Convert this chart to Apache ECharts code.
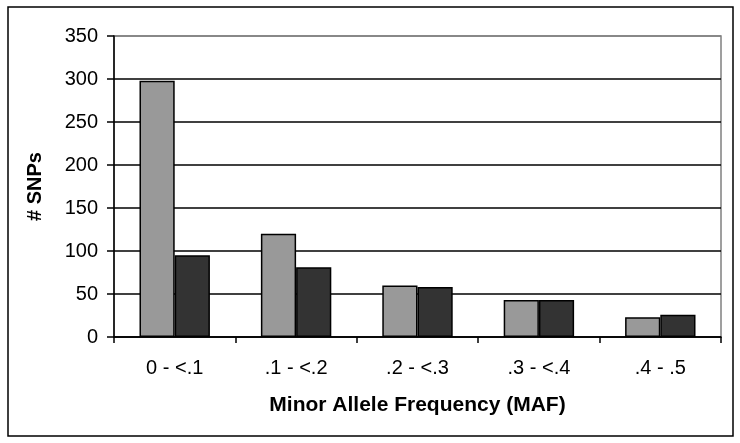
<!DOCTYPE html>
<html>
<head>
<meta charset="utf-8">
<script src="https://cdn.jsdelivr.net/npm/echarts@6/dist/echarts.min.js"></script>
<style>html,body{margin:0;padding:0;background:#fff;}#c{width:740px;height:443px;}</style>
</head>
<body>
<div id="c"></div>
<script>
var categories = ['0 - <.1', '.1 - <.2', '.2 - <.3', '.3 - <.4', '.4 - .5'];
var seriesA = [298, 120, 60, 43, 23];
var seriesB = [95, 81, 58, 43, 26];
var yTicks = [0, 50, 100, 150, 200, 250, 300, 350];

var chart = echarts.init(document.getElementById('c'));
var font = 'Arial, "Liberation Sans", sans-serif';
chart.setOption({
  animation: false,
  backgroundColor: '#fff',
  graphic: [{
    type: 'rect', shape: {x: 8, y: 7, width: 725, height: 429},
    style: {fill: 'none', stroke: '#000', lineWidth: 1.5}, z: -1
  }],
  grid: {left: 114, right: 19, top: 36, bottom: 106, show: true, borderColor: '#808080', borderWidth: 1.5},
  xAxis: {
    type: 'category', data: categories,
    axisLine: {lineStyle: {color: '#000', width: 1.5}},
    axisTick: {show: true, length: 6, lineStyle: {color: '#000', width: 1.5}},
    axisLabel: {color: '#000', fontSize: 20, fontFamily: font, margin: 21},
    name: 'Minor Allele Frequency (MAF)', nameLocation: 'middle', nameGap: 58,
    nameTextStyle: {color: '#000', fontSize: 21, fontWeight: 'bold', fontFamily: font}
  },
  yAxis: {
    type: 'value', min: yTicks[0], max: yTicks[yTicks.length - 1], interval: 50,
    axisLine: {show: true, lineStyle: {color: '#000', width: 1.5}},
    axisTick: {show: true, length: 7, lineStyle: {color: '#000', width: 1.5}},
    axisLabel: {color: '#000', fontSize: 20, fontFamily: font, margin: 16},
    splitLine: {show: true, lineStyle: {color: ['#000','#000','#000','#000','#000','#000','#000','#808080'], width: 1.5}},
    name: '# SNPs', nameLocation: 'middle', nameGap: 69,
    nameTextStyle: {color: '#000', fontSize: 20, fontWeight: 'bold', fontFamily: font}
  },
  series: [{
    type: 'bar', data: seriesA, barGap: '0%', barCategoryGap: '42%',
    itemStyle: {color: '#999999', borderColor: '#000', borderWidth: 1.5}
  }, {
    type: 'bar', data: seriesB, barGap: '0%', barCategoryGap: '42%',
    itemStyle: {color: '#333333', borderColor: '#000', borderWidth: 1.5}
  }]
});
</script>
</body>
</html>
